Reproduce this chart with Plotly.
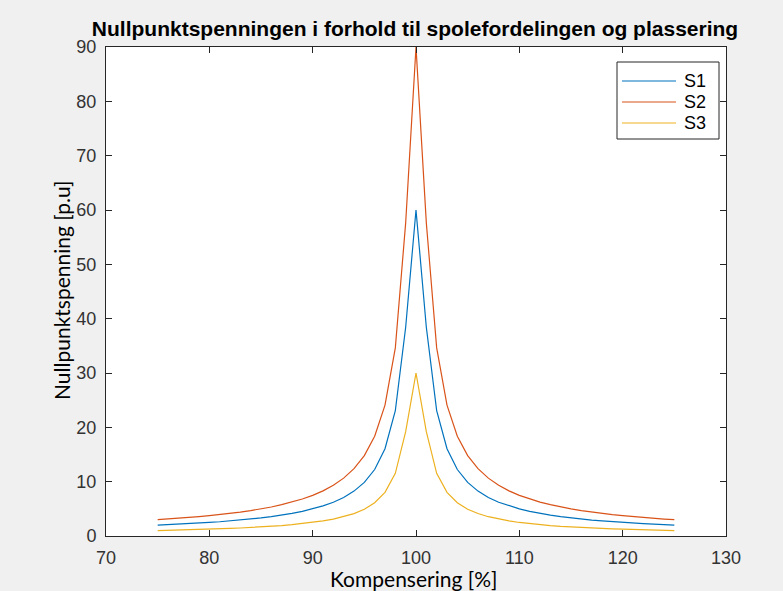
import plotly.graph_objects as go

# Compensation degree [%]
kompensering = list(range(75, 126))

# Neutral-point voltage [p.u] for the three coil distributions
s1 = [2.00, 2.08, 2.18, 2.28, 2.38, 2.50, 2.62, 2.78, 2.94, 3.12, 3.32, 3.56, 3.84,
      4.16, 4.54, 4.98, 5.54, 6.22, 7.10, 8.26, 9.86, 12.24, 16.06, 23.08, 38.42,
      60.00,
      38.42, 23.08, 16.06, 12.24, 9.86, 8.26, 7.10, 6.22, 5.54, 4.98, 4.54, 4.16,
      3.84, 3.56, 3.32, 3.12, 2.94, 2.78, 2.62, 2.50, 2.38, 2.28, 2.18, 2.08, 2.00]
s2 = [3.00, 3.12, 3.27, 3.42, 3.57, 3.75, 3.93, 4.17, 4.41, 4.68, 4.98, 5.34, 5.76,
      6.24, 6.81, 7.47, 8.31, 9.33, 10.65, 12.39, 14.79, 18.36, 24.09, 34.62, 57.63,
      90.00,
      57.63, 34.62, 24.09, 18.36, 14.79, 12.39, 10.65, 9.33, 8.31, 7.47, 6.81, 6.24,
      5.76, 5.34, 4.98, 4.68, 4.41, 4.17, 3.93, 3.75, 3.57, 3.42, 3.27, 3.12, 3.00]
s3 = [1.00, 1.04, 1.09, 1.14, 1.19, 1.25, 1.31, 1.39, 1.47, 1.56, 1.66, 1.78, 1.92,
      2.08, 2.27, 2.49, 2.77, 3.11, 3.55, 4.13, 4.93, 6.12, 8.03, 11.54, 19.21,
      30.00,
      19.21, 11.54, 8.03, 6.12, 4.93, 4.13, 3.55, 3.11, 2.77, 2.49, 2.27, 2.08,
      1.92, 1.78, 1.66, 1.56, 1.47, 1.39, 1.31, 1.25, 1.19, 1.14, 1.09, 1.04, 1.00]

series_names = ["S1", "S2", "S3"]
series_values = [s1, s2, s3]
colors = ["#0072BD", "#D95319", "#EDB120"]

x_ticks = [70, 80, 90, 100, 110, 120, 130]
y_ticks = [0, 10, 20, 30, 40, 50, 60, 70, 80, 90]

W, H = 783, 591
L, R, T, B = 106, 57, 47, 55
pw, ph = W - L - R, H - T - B


def px_x(p):
    return (p - L) / pw


def px_y(p):
    return (H - B - p) / ph


fig = go.Figure()
for name, vals, col in zip(series_names, series_values, colors):
    fig.add_trace(go.Scatter(x=kompensering, y=vals, mode="lines", name=name,
                             line=dict(color=col, width=1.2), showlegend=False))

axis_col = "#262626"
tick_font = dict(family="Liberation Sans, Arial, sans-serif", size=18, color="#333333")
label_font = dict(family="Lato, sans-serif", size=21, color="#000000")

fig.update_xaxes(range=[70, 130], tickvals=x_ticks, ticks="inside", ticklen=6,
                 tickcolor=axis_col, showline=True, linecolor=axis_col, linewidth=1,
                 mirror="ticks", showgrid=False, zeroline=False, tickfont=tick_font,
                 ticklabelstandoff=5, automargin=False)
fig.update_yaxes(range=[0, 90], tickvals=y_ticks, ticks="inside", ticklen=6,
                 tickcolor=axis_col, showline=True, linecolor=axis_col, linewidth=1,
                 mirror="ticks", showgrid=False, zeroline=False, tickfont=tick_font,
                 ticklabelstandoff=5, automargin=False)

shapes = [
    # legend box
    dict(type="rect", xref="paper", yref="paper",
         x0=px_x(617), x1=px_x(719), y0=px_y(139), y1=px_y(62),
         fillcolor="#ffffff", line=dict(color=axis_col, width=1)),
]
annotations = [
    dict(xref="paper", yref="paper", x=px_x(413), y=px_y(578),
         xanchor="center", yanchor="middle", showarrow=False,
         text="Kompensering [%]", font=label_font),
    dict(xref="paper", yref="paper", x=px_x(61), y=px_y(291),
         xanchor="center", yanchor="middle", showarrow=False, textangle=-90,
         text="Nullpunktspenning [p.u]", font=label_font),
]
legend_rows = [81, 102, 123]
for name, col, row in zip(series_names, colors, legend_rows):
    shapes.append(dict(type="line", xref="paper", yref="paper",
                       x0=px_x(622), x1=px_x(676), y0=px_y(row), y1=px_y(row),
                       line=dict(color=col, width=1.2)))
    annotations.append(dict(xref="paper", yref="paper", x=px_x(682), y=px_y(row),
                            xanchor="left", yanchor="middle", showarrow=False,
                            text=name,
                            font=dict(family="Liberation Sans, Arial, sans-serif",
                                      size=18, color="#000000")))

fig.update_layout(
    width=W, height=H,
    margin=dict(l=L, r=R, t=T, b=B, pad=0, autoexpand=False),
    paper_bgcolor="#f0f0f0",
    plot_bgcolor="#ffffff",
    title=dict(text="<b>Nullpunktspenningen i forhold til spolefordelingen og plassering</b>",
               x=px_x(415), xanchor="center", xref="paper",
               y=1 - 29 / H, yanchor="middle",
               font=dict(family="Liberation Sans, Arial, sans-serif", size=21,
                         color="#000000")),
    shapes=shapes,
    annotations=annotations,
    showlegend=False,
)

fig.write_html("out.html")
